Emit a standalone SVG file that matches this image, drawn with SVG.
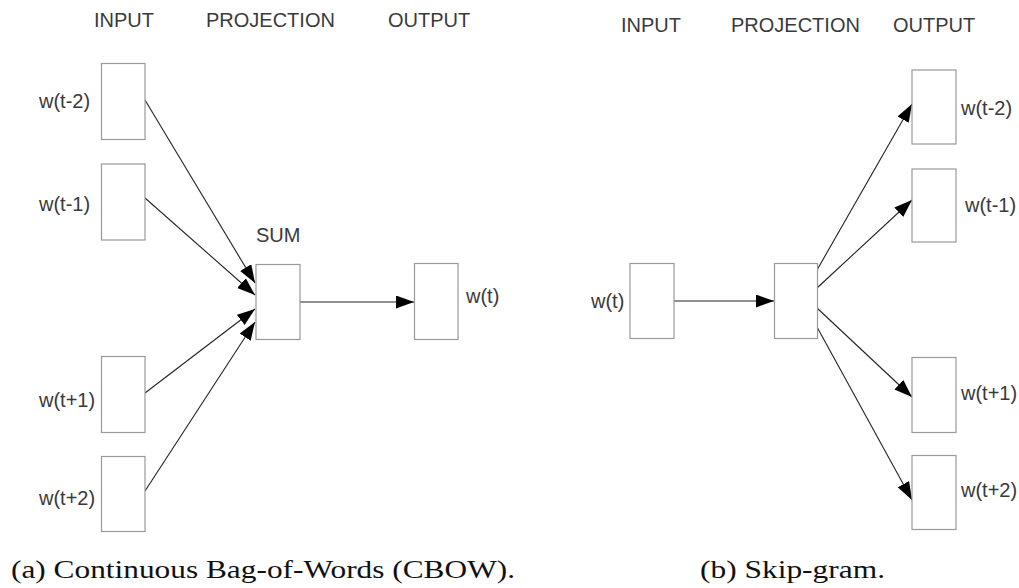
<svg xmlns="http://www.w3.org/2000/svg" width="1019" height="588" viewBox="0 0 1019 588">
<style>
.box{fill:#fff;stroke:#999;stroke-width:1.2}
.lbl{font-family:"Liberation Sans",Arial,sans-serif;font-size:20px;fill:#3a3a3a}
.hdr{font-family:"Liberation Sans",Arial,sans-serif;font-size:20px;fill:#3a3a3a}
.cap{font-family:"Liberation Serif","DejaVu Serif",serif;font-size:26px;fill:#111}
.edge{stroke:#222;stroke-width:1.1;fill:none;marker-end:url(#ah)}
</style>
<defs>
<marker id="ah" markerUnits="userSpaceOnUse" markerWidth="20" markerHeight="14" refX="18" refY="6.5" orient="auto">
<path d="M0,0 L18,6.5 L0,13 Z" fill="#000"/>
</marker>
</defs>
<rect width="1019" height="588" fill="#fff"/>
<g id="headers">
<text class="hdr" x="94" y="27">INPUT</text>
<text class="hdr" x="206" y="27">PROJECTION</text>
<text class="hdr" x="388" y="27">OUTPUT</text>
<text class="hdr" x="621" y="32">INPUT</text>
<text class="hdr" x="731" y="32">PROJECTION</text>
<text class="hdr" x="893" y="32">OUTPUT</text>
</g>
<g id="connectors">
<line class="edge" x1="145" y1="100" x2="255" y2="283"/>
<line class="edge" x1="145" y1="198" x2="255" y2="295"/>
<line class="edge" x1="145" y1="393" x2="255" y2="309"/>
<line class="edge" x1="145" y1="491" x2="255" y2="322"/>
<line class="edge" x1="298" y1="302" x2="414" y2="302"/>
<line class="edge" x1="672" y1="301" x2="774" y2="301"/>
<line class="edge" x1="817" y1="270" x2="912" y2="104"/>
<line class="edge" x1="817" y1="288" x2="912" y2="200"/>
<line class="edge" x1="817" y1="308" x2="912" y2="397"/>
<line class="edge" x1="817" y1="327" x2="912" y2="500"/>
</g>
<g id="cbow-in-t-2"><rect class="box" x="101.5" y="63.5" width="43.5" height="76"/><text class="lbl" x="39" y="108">w(t-2)</text></g>
<g id="cbow-in-t-1"><rect class="box" x="101.5" y="164" width="43.5" height="76"/><text class="lbl" x="39" y="211">w(t-1)</text></g>
<g id="cbow-in-t+1"><rect class="box" x="101.5" y="356.5" width="43.5" height="76"/><text class="lbl" x="39" y="407">w(t+1)</text></g>
<g id="cbow-in-t+2"><rect class="box" x="101.5" y="456.5" width="43.5" height="75"/><text class="lbl" x="39" y="505">w(t+2)</text></g>
<g id="cbow-sum"><rect class="box" x="256" y="264.5" width="44" height="75"/><text class="lbl" x="256" y="242">SUM</text></g>
<g id="cbow-out"><rect class="box" x="414.5" y="263.5" width="43.5" height="76"/><text class="lbl" x="466" y="303">w(t)</text></g>
<g id="sg-in"><rect class="box" x="630" y="263.5" width="44" height="75"/><text class="lbl" x="591" y="308">w(t)</text></g>
<g id="sg-proj"><rect class="box" x="774.5" y="263.5" width="43" height="75"/></g>
<g id="sg-out-t-2"><rect class="box" x="912" y="70" width="44" height="74"/><text class="lbl" x="961" y="115">w(t-2)</text></g>
<g id="sg-out-t-1"><rect class="box" x="912" y="169" width="44" height="73"/><text class="lbl" x="965" y="212">w(t-1)</text></g>
<g id="sg-out-t+1"><rect class="box" x="912" y="357.5" width="44" height="75"/><text class="lbl" x="961" y="400">w(t+1)</text></g>
<g id="sg-out-t+2"><rect class="box" x="912" y="455.5" width="44" height="74"/><text class="lbl" x="961" y="497">w(t+2)</text></g>
<g id="captions">
<text class="cap" x="11" y="578" textLength="504" lengthAdjust="spacingAndGlyphs">(a) Continuous Bag-of-Words (CBOW).</text>
<text class="cap" x="700" y="578" textLength="185" lengthAdjust="spacingAndGlyphs">(b) Skip-gram.</text>
</g>
</svg>
